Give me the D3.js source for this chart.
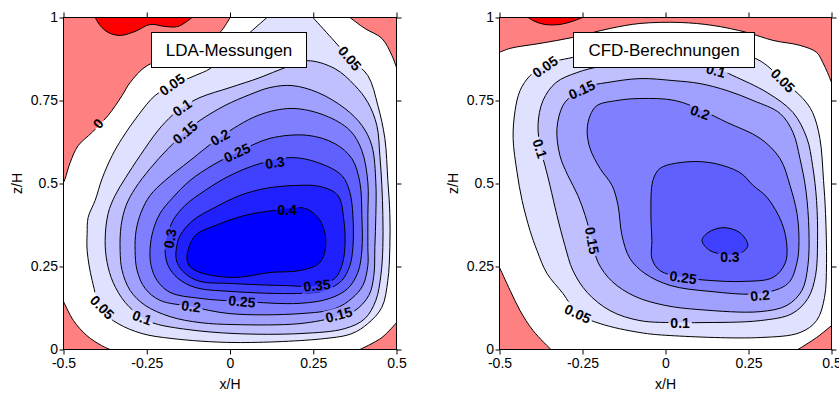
<!DOCTYPE html>
<html><head><meta charset="utf-8">
<script src="https://cdn.jsdelivr.net/npm/d3@7"></script>
<style>body{margin:0;background:#fff} text{font-family:"Liberation Sans",Arial,sans-serif}</style>
</head><body>
<svg id="c" width="839" height="393"></svg>
<script>
// ---------- tick values / labels ----------
const xTicks = [-0.5, -0.25, 0, 0.25, 0.5];
const xTickLabels = ["-0.5", "-0.25", "0", "0.25", "0.5"];
const zTicks = [0, 0.25, 0.5, 0.75, 1];
const zTickLabels = ["0", "0.25", "0.5", "0.75", "1"];
const panelTitles = ["LDA-Messungen", "CFD-Berechnungen"];

// contour levels and band colours (colour = region inside that contour)
const levels = [-0.05, 0, 0.05, 0.1, 0.15, 0.2, 0.25, 0.3, 0.35, 0.4];
const levelColors = ["#ff0000", "#ff8080", "#e0e0ff", "#c0c0ff", "#a0a0ff", "#8080ff", "#6060ff", "#4040ff", "#2020ff", "#0000ff"];

// ---------- LDA contours (x/H, z/H) ----------
const ldaNeg005 = [[-0.405,1],[-0.39,0.976],[-0.366,0.955],[-0.33,0.946],[-0.285,0.958],[-0.24,0.979],[-0.195,0.973],[-0.156,0.973],[-0.114,1]];
const ldaZeroTL = [[0,1],[-0.03,0.955],[-0.09,0.915],[-0.15,0.886],[-0.249,0.855],[-0.3,0.804],[-0.324,0.765],[-0.366,0.705],[-0.414,0.654],[-0.456,0.614],[-0.48,0.563],[-0.495,0.515],[-0.5,0.503]];
const ldaZeroTR = [[0.36,1],[0.405,0.967],[0.456,0.937],[0.486,0.886],[0.5,0.849]];
const ldaZeroBL = [[-0.5,0.145],[-0.47,0.087],[-0.43,0.042],[-0.386,0.012],[-0.36,0]];
const ldaZeroBR = [[0.39,0],[0.456,0.036],[0.5,0.081]];
const lda005 = [[0.111,1],[0.06,0.955],[0,0.901],[-0.06,0.846],[-0.105,0.825],[-0.174,0.795],[-0.225,0.765],[-0.276,0.705],[-0.324,0.636],[-0.354,0.584],[-0.384,0.515],[-0.405,0.449],[-0.426,0.398],[-0.429,0.349],[-0.429,0.298],[-0.414,0.208],[-0.384,0.117],[-0.336,0.078],[-0.264,0.048],[-0.174,0.033],[0.015,0.021],[0.285,0.033],[0.366,0.048],[0.414,0.078],[0.456,0.127],[0.474,0.208],[0.48,0.307],[0.48,0.41],[0.474,0.509],[0.465,0.636],[0.444,0.735],[0.414,0.825],[0.36,0.877],[0.306,0.937],[0.249,1]];
const lda010 = [[0.231,0.87],[0.315,0.846],[0.375,0.795],[0.414,0.744],[0.441,0.675],[0.45,0.584],[0.456,0.494],[0.459,0.404],[0.459,0.307],[0.453,0.223],[0.438,0.148],[0.405,0.093],[0.345,0.063],[0.21,0.048],[0.015,0.048],[-0.126,0.06],[-0.225,0.078],[-0.264,0.096],[-0.315,0.142],[-0.351,0.202],[-0.369,0.262],[-0.375,0.328],[-0.366,0.41],[-0.345,0.464],[-0.315,0.515],[-0.27,0.584],[-0.216,0.66],[-0.174,0.705],[-0.144,0.729],[-0.09,0.759],[0,0.789],[0.09,0.819],[0.165,0.849]];
const lda015 = [[0.186,0.795],[0.264,0.774],[0.345,0.726],[0.396,0.675],[0.426,0.614],[0.438,0.503],[0.438,0.404],[0.435,0.307],[0.432,0.223],[0.417,0.163],[0.375,0.117],[0.324,0.099],[0.21,0.078],[0.015,0.075],[-0.09,0.081],[-0.18,0.099],[-0.255,0.133],[-0.3,0.178],[-0.324,0.238],[-0.33,0.298],[-0.327,0.373],[-0.312,0.434],[-0.285,0.485],[-0.24,0.545],[-0.186,0.605],[-0.135,0.654],[-0.09,0.69],[-0.015,0.735],[0.06,0.768],[0.12,0.789]];
const lda020 = [[0.186,0.726],[0.285,0.705],[0.36,0.66],[0.396,0.599],[0.414,0.503],[0.414,0.404],[0.414,0.307],[0.414,0.253],[0.399,0.193],[0.366,0.154],[0.315,0.123],[0.21,0.108],[0,0.108],[-0.12,0.13],[-0.21,0.148],[-0.255,0.184],[-0.279,0.238],[-0.285,0.298],[-0.282,0.358],[-0.267,0.413],[-0.24,0.464],[-0.195,0.509],[-0.12,0.569],[-0.03,0.639],[0.084,0.705]];
const lda025 = [[0.234,0.645],[0.315,0.62],[0.366,0.575],[0.39,0.503],[0.396,0.404],[0.396,0.298],[0.384,0.232],[0.354,0.184],[0.3,0.154],[0.21,0.139],[0.033,0.145],[-0.09,0.154],[-0.18,0.172],[-0.219,0.208],[-0.237,0.253],[-0.24,0.304],[-0.231,0.358],[-0.21,0.41],[-0.174,0.455],[-0.12,0.509],[-0.054,0.554],[0.021,0.593],[0.12,0.636]];
const lda030 = [[0.186,0.578],[0.264,0.563],[0.336,0.524],[0.36,0.473],[0.369,0.404],[0.369,0.307],[0.36,0.253],[0.336,0.208],[0.285,0.178],[0.21,0.169],[0,0.175],[-0.105,0.187],[-0.156,0.214],[-0.186,0.253],[-0.195,0.298],[-0.189,0.34],[-0.171,0.389],[-0.135,0.434],[-0.075,0.479],[0,0.524],[0.09,0.56]];
const lda035 = [[0.195,0.494],[0.27,0.491],[0.324,0.464],[0.342,0.389],[0.345,0.307],[0.336,0.253],[0.315,0.214],[0.261,0.193],[0.15,0.193],[0,0.199],[-0.09,0.205],[-0.135,0.229],[-0.159,0.262],[-0.162,0.298],[-0.15,0.343],[-0.111,0.389],[-0.045,0.428],[0.03,0.464],[0.105,0.485]];
const lda040 = [[-0.129,0.283],[-0.105,0.343],[-0.045,0.373],[0.045,0.404],[0.135,0.419],[0.225,0.425],[0.27,0.389],[0.288,0.322],[0.27,0.262],[0.21,0.238],[0.12,0.232],[0.015,0.217],[-0.09,0.232],[-0.123,0.253]];
// contour labels: [text, x/H, z/H, angle]
const ldaLabels = [["0",-0.396,0.681,-50],["0.05",-0.174,0.798,-35],["0.1",-0.144,0.729,-35],["0.15",-0.135,0.654,-40],["0.2",-0.03,0.639,-30],["0.25",0.021,0.593,-25],["0.3",0.135,0.563,-8],["0.4",0.171,0.419,0],["0.3",-0.18,0.334,-80],["0.35",0.261,0.193,-6],["0.25",0.036,0.145,5],["0.2",-0.117,0.13,8],["0.15",0.327,0.105,-15],["0.1",-0.264,0.096,20],["0.05",-0.384,0.127,45],["0.05",0.36,0.877,50]];

// ---------- CFD contours ----------
const cfdNeg005 = [[-0.414,1],[-0.393,0.988],[-0.363,0.979],[-0.318,0.979],[-0.282,0.988],[-0.249,1]];
const cfdZeroTop = [[-0.5,0.895],[-0.468,0.907],[-0.378,0.922],[-0.279,0.94],[-0.167,0.967],[-0.077,0.982],[0.044,0.985],[0.143,0.976],[0.245,0.955],[0.324,0.931],[0.405,0.916],[0.455,0.895],[0.474,0.864],[0.488,0.834],[0.5,0.804]];
const cfdZeroBL = [[-0.5,0.247],[-0.468,0.178],[-0.438,0.117],[-0.399,0.057],[-0.345,0]];
const cfdZeroBR = [[0.399,0],[0.455,0.036],[0.5,0.072]];
const cfd005 = [[-0.227,0.895],[-0.279,0.88],[-0.327,0.87],[-0.357,0.861],[-0.408,0.825],[-0.438,0.78],[-0.453,0.72],[-0.459,0.636],[-0.447,0.533],[-0.432,0.449],[-0.408,0.358],[-0.387,0.298],[-0.357,0.229],[-0.309,0.169],[-0.264,0.108],[-0.197,0.078],[-0.077,0.051],[0.014,0.042],[0.285,0.036],[0.405,0.051],[0.455,0.087],[0.479,0.157],[0.485,0.259],[0.482,0.41],[0.476,0.509],[0.465,0.636],[0.443,0.714],[0.414,0.756],[0.354,0.81],[0.306,0.855],[0.27,0.877],[0.164,0.907],[0.014,0.919],[-0.137,0.913]];
const cfd010 = [[0.155,0.846],[0.203,0.825],[0.306,0.774],[0.384,0.714],[0.426,0.636],[0.443,0.554],[0.455,0.449],[0.458,0.328],[0.452,0.223],[0.429,0.154],[0.381,0.108],[0.285,0.087],[0.104,0.081],[0.044,0.081],[-0.077,0.087],[-0.167,0.117],[-0.236,0.172],[-0.279,0.238],[-0.303,0.313],[-0.327,0.404],[-0.348,0.494],[-0.363,0.554],[-0.375,0.599],[-0.384,0.675],[-0.369,0.75],[-0.33,0.804],[-0.267,0.834],[-0.197,0.852],[-0.077,0.861],[0.074,0.858]];
const cfd015 = [[-0.249,0.789],[-0.176,0.804],[-0.077,0.816],[0.023,0.81],[0.104,0.801],[0.185,0.78],[0.264,0.75],[0.345,0.711],[0.384,0.654],[0.405,0.575],[0.423,0.479],[0.432,0.358],[0.429,0.253],[0.411,0.178],[0.366,0.133],[0.285,0.114],[0.104,0.12],[-0.002,0.133],[-0.092,0.16],[-0.161,0.205],[-0.203,0.262],[-0.221,0.328],[-0.242,0.404],[-0.264,0.464],[-0.294,0.524],[-0.318,0.584],[-0.327,0.666],[-0.309,0.735],[-0.282,0.765]];
const cfd020 = [[-0.227,0.705],[-0.206,0.735],[-0.146,0.75],[-0.077,0.756],[0.029,0.75],[0.11,0.72],[0.185,0.684],[0.285,0.636],[0.345,0.575],[0.375,0.494],[0.396,0.41],[0.402,0.328],[0.396,0.262],[0.369,0.199],[0.285,0.169],[0.134,0.175],[0.014,0.193],[-0.062,0.229],[-0.107,0.274],[-0.131,0.343],[-0.143,0.434],[-0.161,0.494],[-0.197,0.545],[-0.227,0.605],[-0.236,0.66]];
const cfd025 = [[-0.038,0.509],[-0.017,0.545],[0.044,0.563],[0.134,0.563],[0.224,0.533],[0.264,0.494],[0.306,0.458],[0.351,0.38],[0.366,0.307],[0.36,0.259],[0.324,0.217],[0.233,0.205],[0.134,0.208],[0.053,0.217],[-0.017,0.238],[-0.041,0.274],[-0.041,0.328],[-0.044,0.41]];
const cfd030 = [[0.11,0.328],[0.128,0.352],[0.173,0.367],[0.224,0.352],[0.248,0.313],[0.224,0.289],[0.185,0.286],[0.134,0.298]];
const cfdLabels = [["0.05",-0.363,0.852,-35],["0.15",-0.252,0.783,-25],["0.1",-0.378,0.605,72],["0.1",0.152,0.84,15],["0.2",0.104,0.714,20],["0.05",0.354,0.81,45],["0.15",-0.221,0.328,80],["0.05",-0.264,0.108,25],["0.3",0.194,0.28,0],["0.25",0.053,0.217,8],["0.2",0.285,0.163,-5],["0.1",0.044,0.081,0]];

// region lists: [level, points, edge corners or null when closed]
const ldaRegions = [
  [0, ldaZeroTL, [[-0.5,1]]], [0, ldaZeroTR, [[0.5,1]]], [0, ldaZeroBL, [[-0.5,0]]], [0, ldaZeroBR, [[0.5,0]]],
  [-0.05, ldaNeg005, []],
  [0.05, lda005, []], [0.1, lda010, null], [0.15, lda015, null], [0.2, lda020, null],
  [0.25, lda025, null], [0.3, lda030, null], [0.35, lda035, null], [0.4, lda040, null]
];
const cfdRegions = [
  [0, cfdZeroTop, [[0.5,1],[-0.5,1]]], [0, cfdZeroBL, [[-0.5,0]]], [0, cfdZeroBR, [[0.5,0]]],
  [-0.05, cfdNeg005, []],
  [0.05, cfd005, null], [0.1, cfd010, null], [0.15, cfd015, null], [0.2, cfd020, null],
  [0.25, cfd025, null], [0.3, cfd030, null]
];

const svg = d3.select("#c");
const defs = svg.append("defs");
const colorOf = d3.scaleOrdinal().domain(levels).range(levelColors);

function drawPanel(id, left, right, top, bottom, regions, labels, title, box) {
  const x = d3.scaleLinear().domain([-0.5, 0.5]).range([left, right]);
  const y = d3.scaleLinear().domain([0, 1]).range([bottom, top]);
  defs.append("clipPath").attr("id", "clip" + id).append("rect")
    .attr("x", left).attr("y", top).attr("width", right - left).attr("height", bottom - top);
  const plot = svg.append("g").attr("clip-path", `url(#clip${id})`);
  plot.append("rect").attr("x", left).attr("y", top).attr("width", right - left).attr("height", bottom - top).attr("fill", "#fff");
  const lineOpen = d3.line().x(d => x(d[0])).y(d => y(d[1])).curve(d3.curveCatmullRom.alpha(0.5));
  const lineClosed = d3.line().x(d => x(d[0])).y(d => y(d[1])).curve(d3.curveCatmullRomClosed.alpha(0.5));
  const pathOf = r => r[2] === null ? lineClosed(r[1]) : lineOpen(r[1]);
  regions.forEach(r => {
    let d = pathOf(r);
    if (r[2] !== null) d += r[2].map(c => `L${x(c[0])},${y(c[1])}`).join("") + "Z";
    plot.append("path").attr("d", d).attr("fill", colorOf(r[0]));
  });
  const mask = defs.append("mask").attr("id", "mask" + id).attr("maskUnits", "userSpaceOnUse")
    .attr("x", 0).attr("y", 0).attr("width", 839).attr("height", 393);
  mask.append("rect").attr("x", 0).attr("y", 0).attr("width", 839).attr("height", 393).attr("fill", "#fff");
  const lines = plot.append("g").attr("mask", `url(#mask${id})`);
  regions.forEach(r => {
    lines.append("path").attr("d", pathOf(r)).attr("fill", "none").attr("stroke", "#000").attr("stroke-width", 1);
  });
  labels.forEach(l => {
    const tr = `translate(${x(l[1])},${y(l[2])}) rotate(${l[3]})`;
    const t = plot.append("text").attr("transform", tr).attr("text-anchor", "middle").attr("dy", "0.36em")
      .attr("font-weight", "bold").attr("font-size", 14).attr("fill", "#000").text(l[0]);
    const w = t.node().getComputedTextLength();
    mask.append("rect").attr("transform", tr).attr("x", -w / 2 - 2).attr("y", -7).attr("width", w + 4).attr("height", 14).attr("fill", "#000");
  });
  // frame
  svg.append("rect").attr("x", left).attr("y", top).attr("width", right - left).attr("height", bottom - top)
    .attr("fill", "none").attr("stroke", "#000").attr("stroke-width", 1);
  const styleAxis = g => { g.select(".domain").remove(); g.selectAll("line").attr("stroke", "#000");
    g.selectAll("text").attr("font-size", 14).attr("fill", "#000").attr("font-family", '"Liberation Sans",Arial,sans-serif'); };
  svg.append("g").attr("transform", `translate(0,${bottom})`)
    .call(d3.axisBottom(x).tickValues(xTicks).tickSize(5).tickPadding(4).tickFormat((d, i) => xTickLabels[i])).call(styleAxis);
  svg.append("g").attr("transform", `translate(0,${top})`)
    .call(d3.axisTop(x).tickValues(xTicks).tickSize(5).tickFormat("")).call(styleAxis);
  svg.append("g").attr("transform", `translate(${left},0)`)
    .call(d3.axisLeft(y).tickValues(zTicks).tickSize(4).tickPadding(1.5).tickFormat((d, i) => zTickLabels[i])).call(styleAxis);
  svg.append("g").attr("transform", `translate(${right},0)`)
    .call(d3.axisRight(y).tickValues(zTicks).tickSize(5).tickFormat("")).call(styleAxis);
  // axis titles
  svg.append("text").attr("x", (left + right) / 2).attr("y", 389).attr("text-anchor", "middle").attr("font-size", 14).text("x/H");
  svg.append("text").attr("transform", `translate(${left - 42},${(top + bottom) / 2}) rotate(-90)`).attr("text-anchor", "middle").attr("font-size", 14).text("z/H");
  // title box
  svg.append("rect").attr("x", box[0]).attr("y", box[1]).attr("width", box[2]).attr("height", box[3])
    .attr("fill", "#fff").attr("stroke", "#000").attr("stroke-width", 1);
  svg.append("text").attr("x", box[0] + box[2] / 2).attr("y", box[1] + 23.5).attr("text-anchor", "middle")
    .attr("font-size", 17).attr("fill", "#000").text(title);
}

drawPanel("L", 63.5, 396.5, 17.5, 349.5, ldaRegions, ldaLabels, panelTitles[0], [151.5, 32.5, 155, 35]);
drawPanel("R", 499.5, 831.5, 17.5, 349.5, cfdRegions, cfdLabels, panelTitles[1], [573.5, 32.5, 181, 35]);
</script>
</body></html>
